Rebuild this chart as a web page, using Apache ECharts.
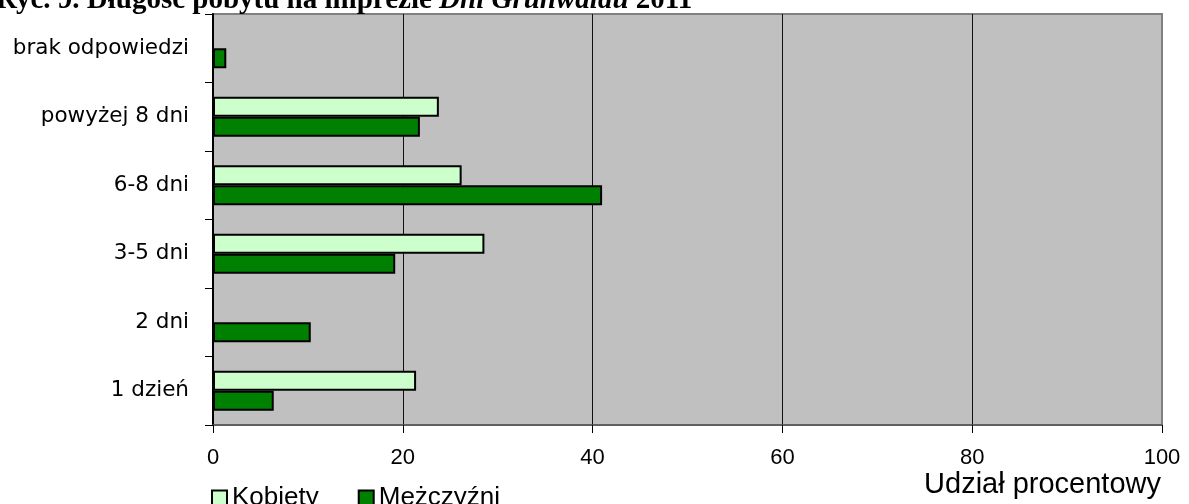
<!DOCTYPE html>
<html>
<head>
<meta charset="utf-8">
<script src="https://cdn.jsdelivr.net/npm/echarts@6/dist/echarts.min.js"></script>
<style>
html,body{margin:0;padding:0;background:#fff;}
#chart{width:1189px;height:504px;}
</style>
</head>
<body>
<div id="chart"></div>
<script>
const categories = ['1 dzień', '2 dni', '3-5 dni', '6-8 dni', 'powyżej 8 dni', 'brak odpowiedzi'];
const kobiety = [21.4, 0, 28.6, 26.2, 23.8, 0];
const mezczyzni = [6.4, 10.3, 19.2, 41.0, 21.8, 1.4];
const xTicks = [0, 20, 40, 60, 80, 100];
const seriesNames = ['Kobiety', 'Mężczyźni'];
const axisTitle = 'Udział procentowy';
const chartTitle = ['Ryc. 9. Długość pobytu na imprezie ', 'Dni Grunwaldu', ' 2011'];

const chart = echarts.init(document.getElementById('chart'), null, {renderer: 'canvas'});
chart.setOption({
  animation: false,
  backgroundColor: '#ffffff',
  grid: {
    left: 213, top: 14, width: 949, height: 411,
    show: true, backgroundColor: '#C0C0C0', borderColor: '#808080', borderWidth: 2
  },
  legend: {
    data: seriesNames,
    left: 206, top: 480,
    itemWidth: 15, itemHeight: 15, itemGap: 39,
    icon: 'rect',
    textStyle: {fontFamily: 'Liberation Sans', fontSize: 26, color: '#000'}
  },
  xAxis: {
    type: 'value', min: xTicks[0], max: xTicks[xTicks.length - 1], interval: xTicks[1] - xTicks[0],
    axisLine: {show: true, lineStyle: {color: '#555', width: 1.5}},
    axisTick: {show: true, length: 8, lineStyle: {color: '#000', width: 1}},
    axisLabel: {fontFamily: 'Liberation Sans', fontSize: 22, color: '#000', margin: 22},
    splitLine: {show: true, showMinLine: false, showMaxLine: false, lineStyle: {color: '#111', width: 1}}
  },
  yAxis: {
    type: 'category', data: categories,
    axisLine: {show: true, lineStyle: {color: '#000', width: 2}},
    axisTick: {show: true, length: 8, lineStyle: {color: '#000', width: 1}},
    axisLabel: {fontFamily: 'DejaVu Sans', fontSize: 21.5, color: '#000', margin: 24},
    splitLine: {show: false}
  },
  series: [
    {
      name: seriesNames[0], type: 'bar', data: kobiety, barWidth: 20, barGap: '0%',
      itemStyle: {color: '#CCFFCC', borderColor: '#000', borderWidth: 2}
    },
    {
      name: seriesNames[1], type: 'bar', data: mezczyzni, barWidth: 20, barGap: '0%',
      itemStyle: {color: '#008000', borderColor: '#000', borderWidth: 2}
    }
  ],
  graphic: [
    {
      type: 'text', x: -4, y: 15, silent: true,
      style: {
        text: '{b|' + chartTitle[0] + '}{bi|' + chartTitle[1] + '}{b|' + chartTitle[2] + '}',
        verticalAlign: 'bottom', align: 'left',
        rich: {
          b: {fontFamily: 'Liberation Serif', fontWeight: 'bold', fontSize: 29, fill: '#000', color: '#000'},
          bi: {fontFamily: 'Liberation Serif', fontWeight: 'bold', fontStyle: 'italic', fontSize: 29, fill: '#000', color: '#000'}
        }
      }
    },
    {
      type: 'text', x: 1161, y: 485, silent: true,
      style: {
        text: axisTitle, align: 'right', verticalAlign: 'middle',
        fontFamily: 'Liberation Sans', fontSize: 29, fill: '#000'
      }
    }
  ]
});
</script>
</body>
</html>
